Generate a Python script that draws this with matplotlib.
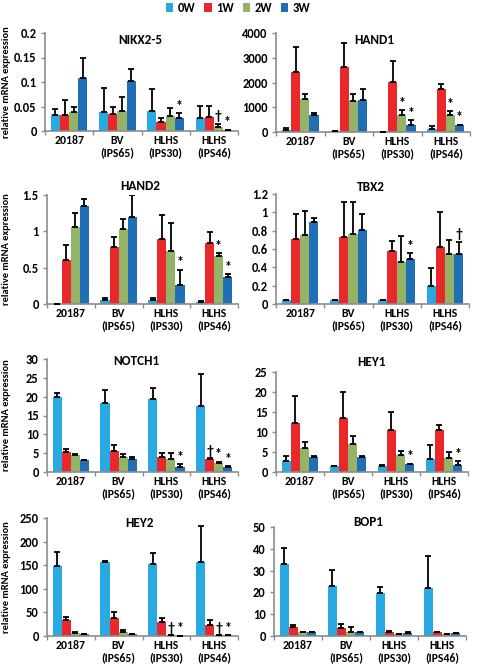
import matplotlib
matplotlib.use("Agg")
import matplotlib.pyplot as plt
from matplotlib.patches import Patch
import numpy as np

plt.rcParams['font.family'] = ['Carlito', 'DejaVu Sans']
plt.rcParams['font.weight'] = 'bold'

series = ['0W', '1W', '2W', '3W']
colors = ['#29A9E1', '#E8282B', '#93B366', '#1F6EB6']
categories = ['20187', 'BV\n(IPS65)', 'HLHS\n(IPS30)', 'HLHS\n(IPS46)']

# values[group][series], errors = top of error bar
nkx_vals = [[0.033, 0.033, 0.039, 0.109], [0.038, 0.035, 0.040, 0.103],
            [0.040, 0.018, 0.031, 0.027], [0.027, 0.029, 0.008, 0.002]]
nkx_err = [[0.045, 0.063, 0.049, 0.150], [0.087, 0.049, 0.070, 0.127],
           [0.085, 0.026, 0.046, 0.036], [0.051, 0.051, 0.015, 0.003]]
hand1_vals = [[95, 2414, 1329, 705], [30, 2617, 1247, 1288],
              [20, 2007, 678, 271], [108, 1736, 678, 271]]
hand1_err = [[150, 3417, 1519, 786], [30, 3593, 1519, 1749],
             [20, 2888, 881, 475], [244, 1953, 840, 300]]
hand2_vals = [[0.0, 0.608, 1.056, 1.349], [0.05, 0.782, 1.029, 1.198],
              [0.05, 0.896, 0.732, 0.265], [0.03, 0.841, 0.663, 0.375]]
hand2_err = [[0.0, 0.814, 1.257, 1.44], [0.08, 0.928, 1.166, 1.495],
             [0.08, 1.221, 1.111, 0.471], [0.04, 0.988, 0.70, 0.41]]
tbx2_vals = [[0.044, 0.709, 0.753, 0.895], [0.044, 0.727, 0.760, 0.807],
             [0.044, 0.578, 0.455, 0.491], [0.193, 0.618, 0.542, 0.542]]
tbx2_err = [[0.048, 0.978, 1.018, 0.935], [0.048, 1.116, 1.116, 0.985],
            [0.048, 0.691, 0.742, 0.553], [0.393, 1.004, 0.698, 0.680]]
notch1_vals = [[19.8, 5.2, 4.4, 3.1], [18.2, 5.5, 4.1, 3.4],
               [19.3, 3.9, 3.4, 1.4], [17.4, 3.4, 2.5, 1.4]]
notch1_err = [[21.0, 6.1, 4.9, 3.3], [21.7, 7.3, 4.7, 4.0],
              [22.2, 5.1, 5.1, 2.0], [25.9, 3.7, 2.75, 1.5]]
hey1_vals = [[2.8, 12.2, 6.0, 3.7], [1.4, 13.5, 7.0, 3.7],
             [1.4, 10.5, 4.2, 1.9], [3.2, 10.5, 3.4, 1.8]]
hey1_err = [[4.1, 18.9, 7.4, 3.9], [1.5, 20.1, 9.1, 4.0],
            [1.8, 15.1, 5.3, 2.1], [6.7, 11.7, 4.9, 2.8]]
hey2_vals = [[148.4, 34.8, 6.4, 4.3], [157.0, 37.6, 9.2, 4.3],
             [152.7, 29.1, 2.0, 1.0], [157.0, 22.7, 2.0, 1.5]]
hey2_err = [[179.0, 39.8, 8.5, 5.0], [158.4, 50.4, 12.8, 4.6],
            [176.8, 39.1, 2.0, 1.0], [233.7, 34.0, 2.0, 1.5]]
bop1_vals = [[32.9, 4.0, 1.7, 1.7], [23.1, 3.5, 2.0, 1.7],
             [19.9, 2.0, 1.1, 1.3], [22.2, 2.0, 1.1, 1.4]]
bop1_err = [[40.4, 5.0, 2.0, 2.0], [30.4, 5.7, 4.3, 2.0],
            [22.5, 2.3, 1.1, 1.8], [36.7, 2.0, 1.1, 1.4]]

# significance markers: (group, series, symbol)
nkx_sig = [(2, 3, '*'), (3, 2, '†'), (3, 3, '*')]
hand1_sig = [(2, 2, '*'), (2, 3, '*'), (3, 2, '*'), (3, 3, '*')]
hand2_sig = [(2, 3, '*'), (3, 2, '*'), (3, 3, '*')]
tbx2_sig = [(2, 3, '*'), (3, 3, '†')]
notch1_sig = [(2, 3, '*'), (3, 1, '†'), (3, 2, '*'), (3, 3, '*')]
hey1_sig = [(2, 3, '*'), (3, 3, '*')]
hey2_sig = [(2, 2, '†'), (2, 3, '*'), (3, 2, '†'), (3, 3, '*')]
bop1_sig = []

panels = [
    ('NIKX2-5', nkx_vals, nkx_err, nkx_sig, [0, 0.05, 0.1, 0.15, 0.2], ['0', '0.05', '0.1', '0.15', '0.2'], (45, 238, 33, 131), True, (140, 40)),
    ('HAND1', hand1_vals, hand1_err, hand1_sig, [0, 1000, 2000, 3000, 4000], ['0', '1000', '2000', '3000', '4000'], (276, 470, 33, 132), False, (374, 40)),
    ('HAND2', hand2_vals, hand2_err, hand2_sig, [0, 0.5, 1, 1.5], ['0', '0.5', '1', '1.5'], (47, 238, 195, 304), True, (140, 186)),
    ('TBX2', tbx2_vals, tbx2_err, tbx2_sig, [0, 0.2, 0.4, 0.6, 0.8, 1, 1.2], ['0', '0.2', '0.4', '0.6', '0.8', '1', '1.2'], (276, 469, 194, 304), False, (371, 187)),
    ('NOTCH1', notch1_vals, notch1_err, notch1_sig, [0, 5, 10, 15, 20, 25, 30], ['0', '5', '10', '15', '20', '25', '30'], (47, 238, 359, 472), True, (136, 361)),
    ('HEY1', hey1_vals, hey1_err, hey1_sig, [0, 5, 10, 15, 20, 25], ['0', '5', '10', '15', '20', '25'], (276, 468, 372, 472), False, (371, 362)),
    ('HEY2', hey2_vals, hey2_err, hey2_sig, [0, 50, 100, 150, 200, 250], ['0', '50', '100', '150', '200', '250'], (47, 238, 518, 636), True, (140, 523)),
    ('BOP1', bop1_vals, bop1_err, bop1_sig, [0, 10, 20, 30, 40, 50], ['0', '10', '20', '30', '40', '50'], (274, 466, 527, 636), False, (368, 522)),
]

W, H = 482, 668
fig = plt.figure(figsize=(W / 100, H / 100), dpi=100)
gray = '#8C8C8C'
bw = 0.19

for title, vals, errs, sig, yt, ytl, (l, r, t, b), ylab, (tx, ty) in panels:
    ax = fig.add_axes([l / W, 1 - b / H, (r - l) / W, (b - t) / H])
    vals = np.array(vals)
    errs = np.array(errs)
    ymax = yt[-1]
    for s in range(4):
        x = np.arange(4) + (s - 1.5) * bw
        ax.bar(x, vals[:, s], width=bw, color=colors[s], edgecolor='none', zorder=2)
        up = np.clip(errs[:, s] - vals[:, s], 0, None)
        ax.errorbar(x, vals[:, s], yerr=[np.zeros(4), up], fmt='none', ecolor='black',
                    elinewidth=1.3, capsize=2.5, capthick=1.3, zorder=3)
    for g, s, sym in sig:
        x = g + (s - 1.5) * bw
        ax.text(x, errs[g, s] + ymax * 0.012, sym, ha='center', va='bottom',
                fontsize=10, fontweight='bold')
    ax.set_xlim(-0.5, 3.5)
    ax.set_ylim(0, ymax)
    ax.set_yticks(yt)
    ax.set_yticklabels(ytl, fontsize=9, fontweight='bold')
    ax.set_xticks(np.arange(4))
    ax.set_xticklabels(categories, fontsize=8.5, fontweight='bold', linespacing=1.1)
    ax.set_xticks(np.arange(-0.5, 4.0, 1.0), minor=True)
    ax.tick_params(axis='x', which='major', length=0, pad=3)
    ax.tick_params(axis='x', which='minor', length=3, color=gray, width=1)
    ax.tick_params(axis='y', length=3, color=gray, width=1, pad=3)
    for sp in ['top', 'right']:
        ax.spines[sp].set_visible(False)
    for sp in ['left', 'bottom']:
        ax.spines[sp].set_color(gray)
        ax.spines[sp].set_linewidth(1.2)
    fig.text(tx / W, 1 - ty / H, title, ha='center', va='center',
             fontsize=9.5, fontweight='bold')
    if ylab:
        fig.text(7 / W, 1 - ((t + b) / 2) / H, 'relative mRNA expression', rotation=90,
                 ha='center', va='center', fontsize=7.5, fontweight='bold')

handles = [Patch(facecolor=c, edgecolor='none') for c in colors]
fig.legend(handles, series, loc='upper center', bbox_to_anchor=(0.494, 0.999), ncol=4,
           frameon=False, fontsize=9, handlelength=0.6, handleheight=0.7,
           handletextpad=0.35, columnspacing=0.7, borderaxespad=0.0, borderpad=0.1)

fig.savefig('out.png', dpi=100)
